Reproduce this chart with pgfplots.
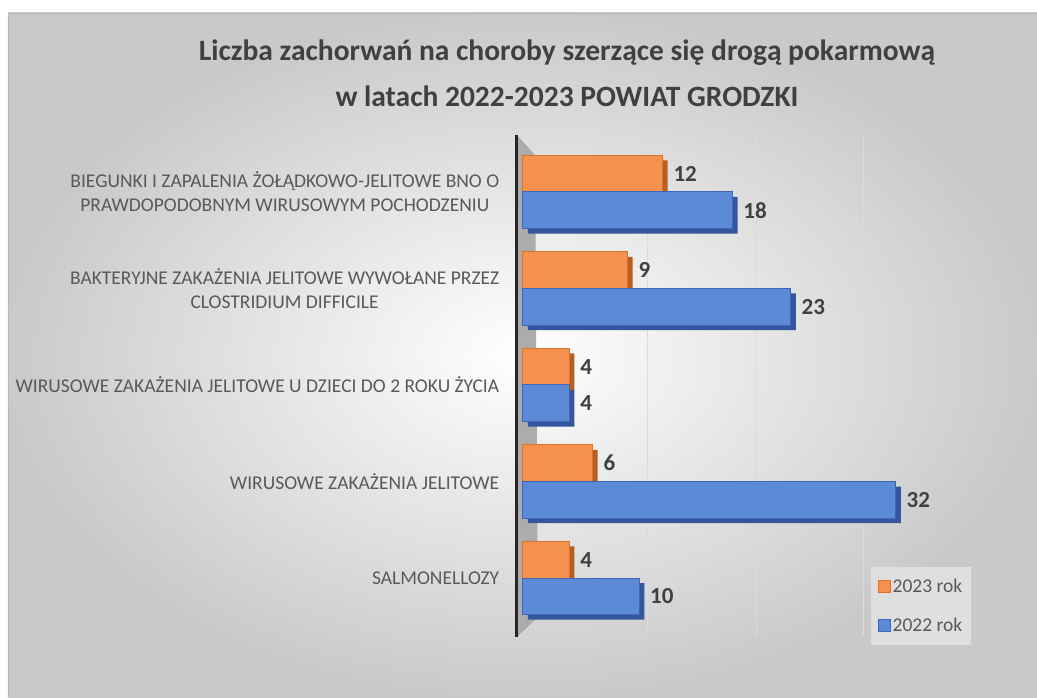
\documentclass[border=0pt]{standalone}
\usepackage{fontspec}
\setmainfont{Carlito}
\usepackage{pgfplots}
\pgfplotsset{compat=1.18}
\definecolor{orF}{HTML}{F4914F}
\definecolor{orB}{HTML}{D9732E}
\definecolor{orD}{HTML}{B85E1E}
\definecolor{blF}{HTML}{5D8AD6}
\definecolor{blB}{HTML}{3F65B5}
\definecolor{blD}{HTML}{34569E}
\definecolor{txt}{HTML}{404040}
\definecolor{lbl}{HTML}{595959}
\begin{document}
\begin{tikzpicture}[x=1pt,y=1pt]
\begin{scope}[shift={(-517pt,-62pt)}]
\useasboundingbox (0,0) rectangle (1037,697);
\fill[white] (0,0) rectangle (1037,697);
\shade[inner color=white, outer color=gray!42] (8,0) rectangle (1037,684);
\draw[gray!55] (8,0) -- (8,684) -- (1037,684);
\node[font=\bfseries\fontsize{29.5}{46}\selectfont, text=txt, align=center] at (567,624) {Liczba zachorwań na choroby szerzące się drogą pokarmową\\ w latach 2022-2023 POWIAT GRODZKI};
\fill[gray!65] (517,562) -- (535,542) -- (538,80) -- (517,60) -- cycle;
\end{scope}
\begin{axis}[scale only axis,
  width=472pt, height=500pt,
  xmin=-0.5, xmax=40, ymin=-0.59, ymax=4.59,
  xbar, bar width=0.38,
  /pgf/number format/assume math mode=true,
  axis line style={draw=none},
  tick style={draw=none},
  xtick={10.7,20,29.2}, xticklabels={},
  xmajorgrids, grid style={gray!28, line width=0.8pt},
  ytick={0,1,2,3,4},
  yticklabels={{SALMONELLOZY},{WIRUSOWE ZAKAŻENIA JELITOWE},{WIRUSOWE ZAKAŻENIA JELITOWE U DZIECI DO 2 ROKU ŻYCIA},{BAKTERYJNE ZAKAŻENIA JELITOWE WYWOŁANE PRZEZ\\CLOSTRIDIUM DIFFICILE},{BIEGUNKI I ZAPALENIA ŻOŁĄDKOWO-JELITOWE BNO O\\PRAWDOPODOBNYM WIRUSOWYM POCHODZENIU}},
  yticklabel style={font=\fontsize{19.5}{24}\selectfont, text=lbl, align=center, xshift=-10pt},
  legend style={at={(0.749,-0.02)}, anchor=south west, fill=white!75!gray, draw=none, font=\fontsize{19.5}{21}\selectfont, text=lbl, row sep=20pt, inner xsep=7pt, inner ysep=10pt},
  legend image code/.code={\draw[#1] (0pt,-6pt) rectangle (12pt,6pt);},
  nodes near coords, every node near coord/.append style={font=\bfseries\fontsize{23}{26}\selectfont, text=txt, anchor=west, xshift=7pt},
]
% back faces (3D depth)
\addplot[bar shift=0.19, fill=orD, draw=none, xshift=5pt, yshift=-5pt, forget plot, nodes near coords={}] coordinates {(4,0) (6,1) (4,2) (9,3) (12,4)};
\addplot[bar shift=-0.19, fill=blD, draw=none, xshift=5pt, yshift=-5pt, forget plot, nodes near coords={}] coordinates {(10,0) (32,1) (4,2) (23,3) (18,4)};
% front faces
\addplot[bar shift=0.19, fill=orF, draw=orB, line width=1pt] coordinates {(4,0) (6,1) (4,2) (9,3) (12,4)};
\addplot[bar shift=-0.19, fill=blF, draw=blB, line width=1pt] coordinates {(10,0) (32,1) (4,2) (23,3) (18,4)};
\legend{2023 rok, 2022 rok}
\end{axis}
\draw[black!85, line width=3pt] (0,500) -- (0,-2);
\end{tikzpicture}
\end{document}
